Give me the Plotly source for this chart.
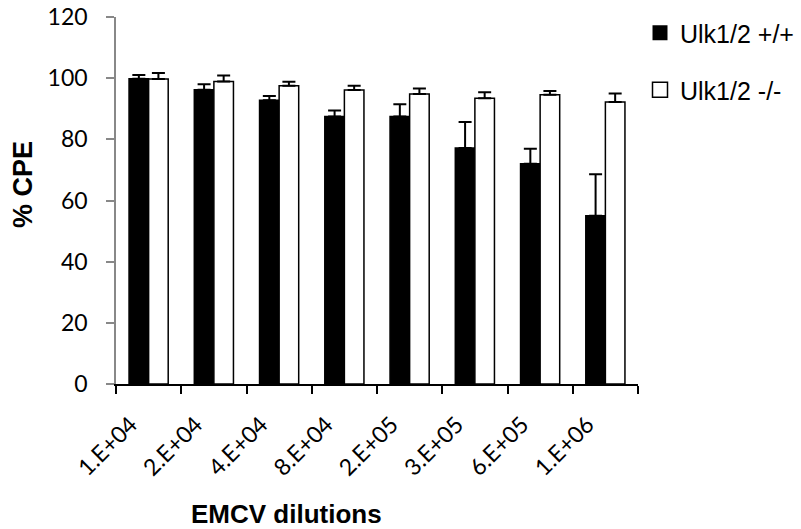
import plotly.graph_objects as go

categories = ["1.E+04", "2.E+04", "4.E+04", "8.E+04", "2.E+05", "3.E+05", "6.E+05", "1.E+06"]
wt_values = [99.8, 96.2, 92.8, 87.5, 87.5, 77.2, 72.0, 55.0]
wt_errors = [1.2, 1.8, 1.4, 1.9, 4.0, 8.5, 4.9, 13.6]
ko_values = [99.7, 98.9, 97.5, 96.1, 94.8, 93.4, 94.6, 92.2]
ko_errors = [2.0, 2.0, 1.3, 1.4, 1.8, 2.0, 1.2, 2.8]
zeros = [0] * len(categories)
y_ticks = [0, 20, 40, 60, 80, 100, 120]

W, H = 801, 529
L, R, T, B = 116, 638, 16.5, 384.5

fig = go.Figure()
fig.add_trace(go.Bar(
    x=categories, y=wt_values, name="Ulk1/2 +/+", showlegend=False,
    marker=dict(color="black", line=dict(color="black", width=1.5)),
    error_y=dict(type="data", symmetric=False, array=wt_errors, arrayminus=zeros,
                 color="black", thickness=2, width=6.5),
))
fig.add_trace(go.Bar(
    x=categories, y=ko_values, name="Ulk1/2 -/-", showlegend=False,
    marker=dict(color="white", line=dict(color="black", width=1.5)),
    error_y=dict(type="data", symmetric=False, array=ko_errors, arrayminus=zeros,
                 color="black", thickness=2, width=6.5),
))
# legend entries (square swatches)
fig.add_trace(go.Scatter(
    x=[None], y=[None], mode="markers", name="Ulk1/2 +/+", legend="legend",
    marker=dict(symbol="square", size=15, color="black", line=dict(width=0)),
))
fig.add_trace(go.Scatter(
    x=[None], y=[None], mode="markers", name="Ulk1/2 -/-", legend="legend2",
    marker=dict(symbol="square", size=15, color="white", line=dict(color="black", width=1.5)),
))

legend_font = dict(family="Liberation Sans, Arial, sans-serif", size=25, color="black")
fig.update_layout(
    width=W, height=H,
    margin=dict(l=L, r=W - R, t=T, b=H - B, pad=0, autoexpand=False),
    paper_bgcolor="white", plot_bgcolor="white",
    barmode="group", bargap=0.4, bargroupgap=0,
    legend=dict(xref="container", yref="container", x=640 / W, y=1 - 33 / H,
                xanchor="left", yanchor="middle", font=legend_font,
                bgcolor="rgba(0,0,0,0)", itemwidth=30),
    legend2=dict(xref="container", yref="container", x=640 / W, y=1 - 90 / H,
                 xanchor="left", yanchor="middle", font=legend_font,
                 bgcolor="rgba(0,0,0,0)", itemwidth=30),
    xaxis=dict(
        type="category", showline=True, linecolor="black", linewidth=2,
        ticks="outside", tickson="boundaries", ticklen=8, tickwidth=2, tickcolor="black",
        tickangle=-45, showgrid=False, zeroline=False, automargin=False,
        tickfont=dict(family="Lato, Calibri, sans-serif", size=23, color="black"),
        ticklabelshift=-18, ticklabelstandoff=16,
    ),
    yaxis=dict(
        range=[0, 120], tickvals=y_ticks, showline=True, linecolor="#888888", linewidth=1.5,
        ticks="outside", ticklen=8, tickwidth=1.5, tickcolor="#888888",
        showgrid=False, zeroline=False, automargin=False,
        tickfont=dict(family="Lato, Calibri, sans-serif", size=23, color="black"),
        ticklabelstandoff=14,
    ),
    annotations=[
        dict(text="<b>EMCV dilutions</b>", xref="paper", yref="paper",
             x=(286.7 - L) / (R - L), y=(B - 515) / (B - T),
             xanchor="center", yanchor="middle", showarrow=False,
             font=dict(family="Liberation Sans, Arial, sans-serif", size=26, color="black")),
        dict(text="<b>% CPE</b>", xref="paper", yref="paper", textangle=-90,
             x=(23 - L) / (R - L), y=(B - 185) / (B - T),
             xanchor="center", yanchor="middle", showarrow=False,
             font=dict(family="Liberation Sans, Arial, sans-serif", size=27, color="black")),
    ],
)

fig.write_html("out.html", config={"displayModeBar": False},
               post_script="document.body.style.margin='0';")
